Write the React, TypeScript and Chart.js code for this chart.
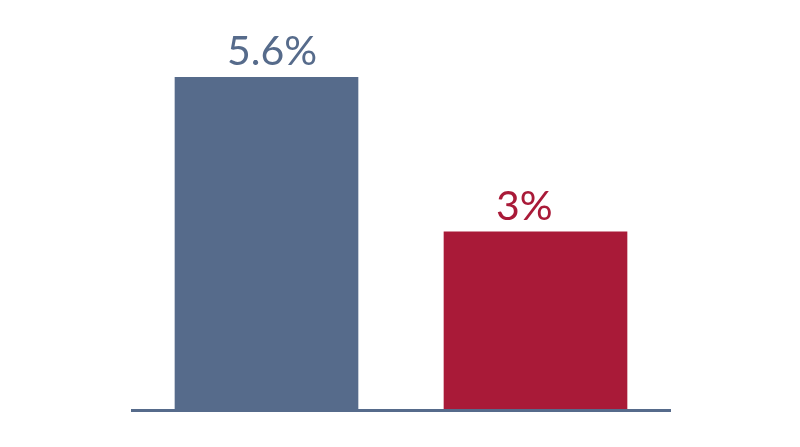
import { useEffect, useRef } from "react"
import Chart from "chart.js/auto"

const categories = ["A", "B"]
const values = [5.6, 3]
const valueLabels = ["5.6%", "3%"]
const barColors = ["#566b8b", "#a91a38"]

const valueLabelPlugin = {
  id: "valueLabels",
  afterDatasetsDraw(chart: any) {
    const ctx = chart.ctx
    const meta = chart.getDatasetMeta(0)
    ctx.save()
    ctx.font = "400 41px Lato, 'Open Sans', sans-serif"
    ctx.textAlign = "left"
    ctx.textBaseline = "alphabetic"
    meta.data.forEach((bar: any, i: number) => {
      ctx.fillStyle = barColors[i]
      ctx.fillText(valueLabels[i], bar.x - bar.width / 2 + 52, bar.y - 12)
    })
    ctx.restore()
  },
}

export default function App() {
  const canvasRef = useRef<HTMLCanvasElement | null>(null)

  useEffect(() => {
    if (!canvasRef.current) return
    const chart = new Chart(canvasRef.current, {
      type: "bar",
      data: {
        labels: categories,
        datasets: [
          {
            data: values,
            backgroundColor: barColors,
            barThickness: 183,
          },
        ],
      },
      options: {
        animation: false,
        responsive: false,
        layout: { padding: { top: 24, left: 132, right: 130, bottom: 29 } },
        plugins: { legend: { display: false }, tooltip: { enabled: false } },
        scales: {
          x: {
            display: true,
            grid: { display: false },
            ticks: { display: false },
            border: { display: true, color: "#566b8b", width: 3, z: 1 },
          },
          y: { display: false, min: 0, max: 6.5 },
        },
      },
      plugins: [valueLabelPlugin],
    })
    return () => chart.destroy()
  }, [])

  return (
    <div style={{ width: 800, height: 447, background: "#fff" }}>
      <style>{`body { margin: 0; }`}</style>
      <canvas ref={canvasRef} width={800} height={447} />
    </div>
  )
}
